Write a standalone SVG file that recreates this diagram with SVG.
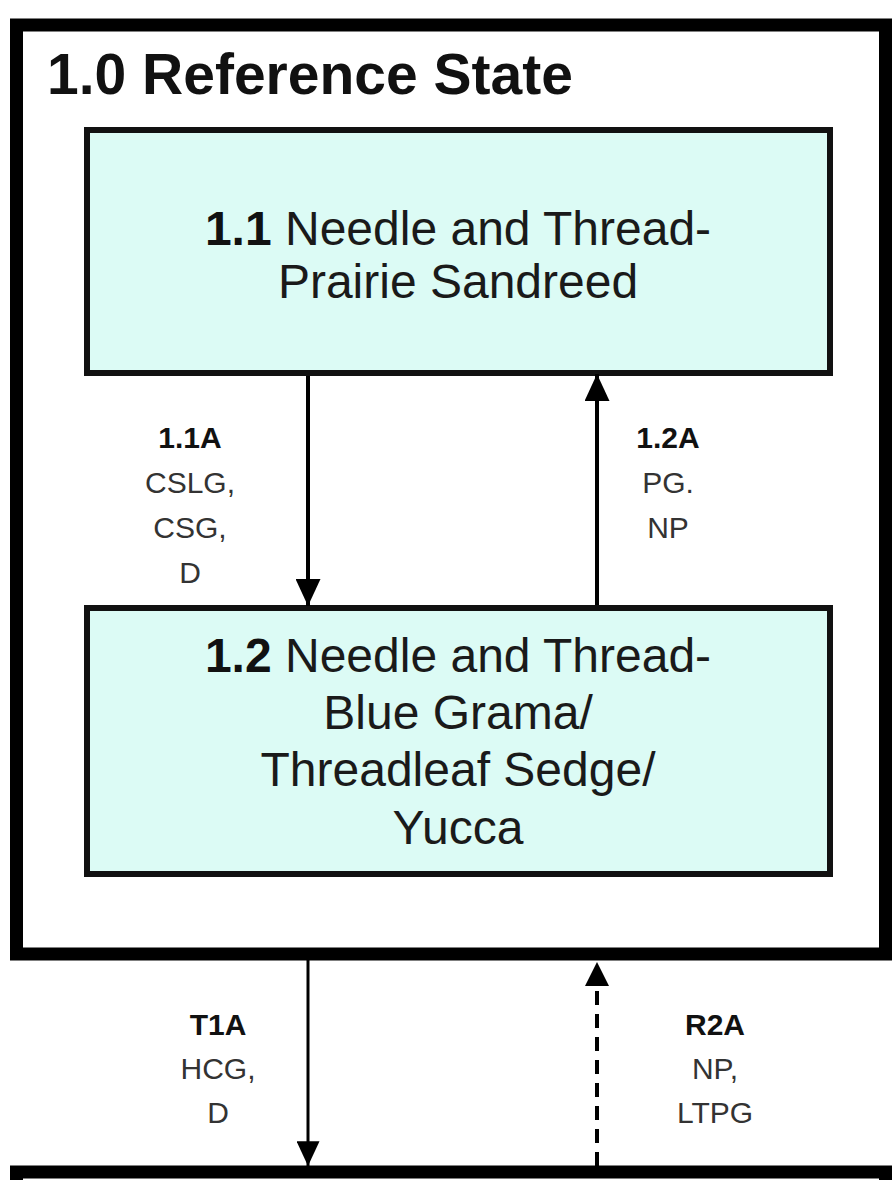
<svg xmlns="http://www.w3.org/2000/svg" width="892" height="1180" viewBox="0 0 892 1180">
<defs>
<style>
.state{fill:#ffffff;stroke:#000;stroke-width:13}
.comm{fill:#dcfbf5;stroke:#111;stroke-width:6}
.t{font-family:"Liberation Sans",Arial,sans-serif;fill:#1a1a1a;text-anchor:middle}
.big{font-size:48px}
.lab{font-size:30px;fill:#333}
.b{font-weight:bold;fill:#111}
.conn{stroke:#000;fill:none}
</style>
<marker id="ah" viewBox="0 0 27 25" refX="27" refY="12.5" markerWidth="27" markerHeight="25" markerUnits="userSpaceOnUse" orient="auto">
<path d="M0,0 L27,12.5 L0,25 Z" fill="#000"/>
</marker>
<marker id="ahs" viewBox="0 0 27 25" refX="27" refY="12.5" markerWidth="25" markerHeight="23" markerUnits="userSpaceOnUse" orient="auto">
<path d="M0,0 L27,12.5 L0,25 Z" fill="#000"/>
</marker>
</defs>
<rect width="892" height="1180" fill="#ffffff"/>

<g id="state1">
<rect class="state" x="16.5" y="25" width="869" height="929"/>
<text class="t b" x="47" y="94" style="font-size:57px;text-anchor:start">1.0 Reference State</text>
</g>

<g id="state2">
<rect class="state" x="16.5" y="1172" width="869" height="100"/>
</g>

<g id="comm11">
<rect class="comm" x="87" y="130" width="743" height="243"/>
<text class="t big" x="458" y="245"><tspan class="b">1.1</tspan> Needle and Thread-</text>
<text class="t big" x="458" y="298">Prairie Sandreed</text>
</g>

<g id="comm12">
<rect class="comm" x="87" y="608" width="743" height="266"/>
<text class="t big" x="458" y="672"><tspan class="b">1.2</tspan> Needle and Thread-</text>
<text class="t big" x="458" y="729">Blue Grama/</text>
<text class="t big" x="458" y="786">Threadleaf Sedge/</text>
<text class="t big" x="458" y="844">Yucca</text>
</g>

<g id="connectors">
<line class="conn" x1="308" y1="376" x2="308" y2="606" stroke-width="4" marker-end="url(#ah)"/>
<line class="conn" x1="597" y1="605" x2="597" y2="374" stroke-width="4" marker-end="url(#ah)"/>
<line class="conn" x1="308" y1="960" x2="308" y2="1166" stroke-width="3" marker-end="url(#ahs)"/>
<line class="conn" x1="597" y1="1166" x2="597" y2="986" stroke-width="4" stroke-dasharray="14 9"/>
<path d="M585,986 L597,962 L609,986 Z" fill="#000"/>
</g>

<g id="labels">
<text class="t lab b" x="190" y="448">1.1A</text>
<text class="t lab" x="190" y="493">CSLG,</text>
<text class="t lab" x="190" y="538">CSG,</text>
<text class="t lab" x="190" y="583">D</text>
<text class="t lab b" x="668" y="448">1.2A</text>
<text class="t lab" x="668" y="493">PG.</text>
<text class="t lab" x="668" y="538">NP</text>
<text class="t lab b" x="218" y="1035">T1A</text>
<text class="t lab" x="218" y="1079">HCG,</text>
<text class="t lab" x="218" y="1123">D</text>
<text class="t lab b" x="715" y="1035">R2A</text>
<text class="t lab" x="715" y="1079">NP,</text>
<text class="t lab" x="715" y="1123">LTPG</text>
</g>
</svg>
